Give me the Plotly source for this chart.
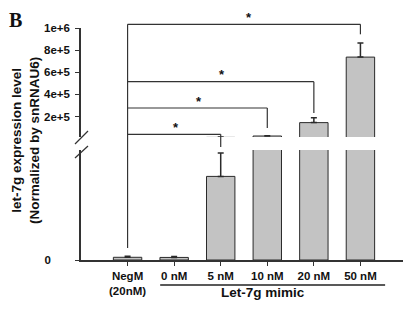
import plotly.graph_objects as go

categories = ["NegM<br>(20nM)", "0 nM", "5 nM", "10 nM", "20 nM", "50 nM"]
values = [370, 350, 11400, 24000, 145000, 737000]
errors = [150, 120, 3200, 3000, 45000, 127000]
upper_ticks = [200000, 400000, 600000, 800000, 1000000]
upper_ticktext = ["2e+5", "4e+5", "6e+5", "8e+5", "1e+6"]
lower_ticks = [0]
lower_ticktext = ["0"]
group_label = "Let-7g mimic"
y_title = "let-7g expression level<br>(Normalized by snRNAU6)"
panel_label = "B"
# significance comparisons: (from index, to index)
comparisons = [(0, 5), (0, 4), (0, 3), (0, 2)]

xs = list(range(len(categories)))
FONT = "Liberation Sans, Arial, sans-serif"
bar_style = dict(marker=dict(color="#c3c3c3", line=dict(color="#2a2a2a", width=1)),
                 error_y=dict(type="data", symmetric=False, array=errors,
                              arrayminus=[0] * len(errors), color="#2a2a2a",
                              thickness=1.5, width=3),
                 showlegend=False, hoverinfo="skip")

fig = go.Figure()
fig.add_trace(go.Bar(x=xs, y=values, xaxis="x", yaxis="y", **bar_style))
fig.add_trace(go.Bar(x=xs, y=values, xaxis="x", yaxis="y2", **bar_style))

# page body has an 8px margin; compensate so the chart lands where the reference has it
OFF = 8
W, H = 411 - OFF, 311 - OFF
L, R, T, B = 81 - OFF, 4, 28 - OFF, 51
pw, ph = W - L - R, H - T - B


def px(xp):
    return (xp - OFF - L) / pw


def py(yp):
    return (H - B - (yp - OFF)) / ph


fig.update_layout(
    width=W, height=H,
    margin=dict(l=L, r=R, t=T, b=B),
    paper_bgcolor="white", plot_bgcolor="white",
    bargap=0.39,
    font=dict(family=FONT, color="#111", size=10),
    xaxis=dict(range=[-1, 6], tickvals=xs, ticktext=categories,
               showline=True, linecolor="#333", linewidth=1.5,
               ticks="outside", ticklen=4, tickcolor="#333",
               tickfont=dict(family=FONT, size=11.5, weight="bold"),
               showgrid=False, zeroline=False, anchor="y"),
    yaxis=dict(domain=[0, py(150)], range=[0, 15000],
               tickvals=lower_ticks, ticktext=lower_ticktext,
               showline=True, linecolor="#333", linewidth=1.5,
               ticks="outside", ticklen=4, tickcolor="#333",
               ticklabelstandoff=22,
               tickfont=dict(family=FONT, size=11.5, weight="bold"),
               showgrid=False, zeroline=False, anchor="x"),
    yaxis2=dict(domain=[py(137), 1], range=[15000, 1000000],
                tickvals=upper_ticks, ticktext=upper_ticktext,
                showline=True, linecolor="#333", linewidth=1.5,
                ticks="outside", ticklen=4, tickcolor="#333",
                ticklabelstandoff=3,
                tickfont=dict(family=FONT, size=11.5, weight="bold"),
                showgrid=False, zeroline=False, anchor="x"),
)

# significance brackets
line_y = [24.3, 81.7, 108, 134.3]
drop_y = [34.3, 113, 128, 147]
shapes = []
shapes.append(dict(type="line", xref="x", yref="paper", x0=0, x1=0,
                   y0=py(line_y[0]), y1=py(248), line=dict(color="#333", width=1.2)))
annotations = []
for (a, b), ly, dy in zip(comparisons, line_y, drop_y):
    shapes.append(dict(type="line", xref="x", yref="paper", x0=a, x1=b,
                       y0=py(ly), y1=py(ly), line=dict(color="#333", width=1.2)))
    shapes.append(dict(type="line", xref="x", yref="paper", x0=b, x1=b,
                       y0=py(ly), y1=py(dy), line=dict(color="#333", width=1.2)))
    annotations.append(dict(x=(a + b) / 2 + (0.1 if b == 5 else 0.03), y=py(ly) - 0.012,
                            xref="x", yref="paper",
                            text="<b>*</b>", showarrow=False, yanchor="bottom",
                            font=dict(size=13, family=FONT, color="#111")))

# axis break marks
for (x0, y0, x1, y1) in [(75, 144, 88, 131), (75, 158, 88, 146)]:
    shapes.append(dict(type="line", xref="paper", yref="paper",
                       x0=px(x0), y0=py(y0), x1=px(x1), y1=py(y1),
                       line=dict(color="#333", width=1.2)))

# group underline
shapes.append(dict(type="line", xref="x", yref="paper", x0=0.70, x1=5.53,
                   y0=py(285), y1=py(285), line=dict(color="#222", width=1.3)))
annotations.append(dict(x=2.91, y=py(301.5), xref="x", yref="paper",
                        text="<b>" + group_label + "</b>", showarrow=False,
                        font=dict(size=13.5, family=FONT, color="#111")))
annotations.append(dict(x=px(25), y=py(141), xref="paper", yref="paper",
                        xanchor="center", yanchor="middle",
                        text="<b>" + y_title + "</b>", showarrow=False, textangle=-90,
                        font=dict(size=13.5, family=FONT, color="#111")))
annotations.append(dict(x=px(OFF), y=py(OFF), xref="paper", yref="paper",
                        text="<b>" + panel_label + "</b>", showarrow=False,
                        xanchor="left", yanchor="top", borderpad=0,
                        font=dict(size=20, family="Liberation Serif, Times New Roman, serif",
                                  color="#111")))

fig.update_layout(shapes=shapes, annotations=annotations)
fig.write_html("out.html")
